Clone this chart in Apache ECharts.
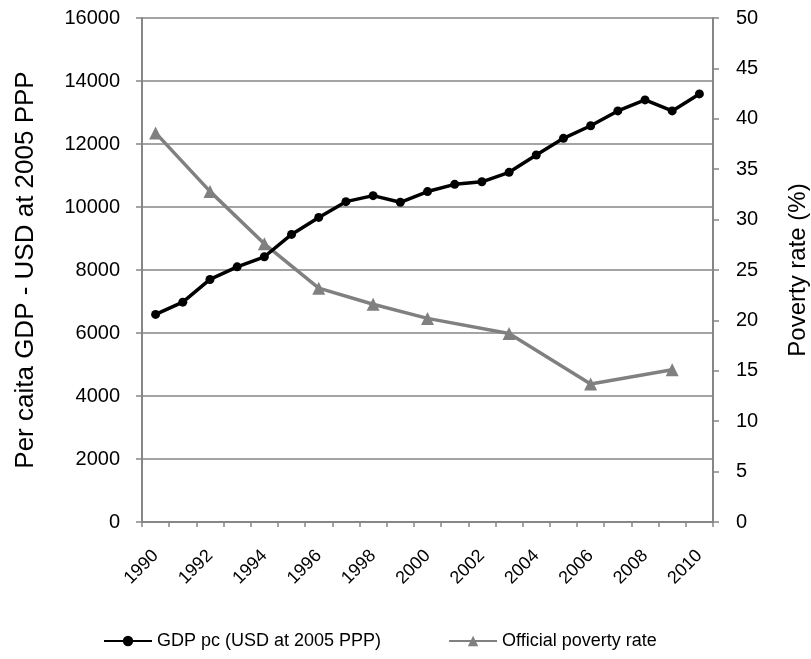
<!DOCTYPE html>
<html>
<head>
<meta charset="utf-8">
<script src="https://cdn.jsdelivr.net/npm/echarts@6/dist/echarts.min.js"></script>
<style>
  html, body { margin: 0; padding: 0; background: #fff; }
  #main { width: 811px; height: 659px; }
</style>
</head>
<body>
<div id="main"></div>
<script>
var years = ['1990', '1991', '1992', '1993', '1994', '1995', '1996', '1997', '1998', '1999', '2000',
             '2001', '2002', '2003', '2004', '2005', '2006', '2007', '2008', '2009', '2010'];
// GDP per capita, USD at 2005 PPP
var gdpValues = [6590, 6980, 7700, 8100, 8420, 9130, 9670, 10170, 10360, 10150, 10490,
                 10720, 10800, 11100, 11650, 12180, 12580, 13050, 13400, 13050, 13590];
// official poverty rate (%), only some years
var povertyValues = [38.6, null, 32.8, null, 27.6, null, 23.2, null, 21.6, null, 20.2,
                     null, null, 18.7, null, null, 13.7, null, null, 15.1, null];
var leftTicks = [0, 16000, 2000];
var rightTicks = [0, 50, 5];

var font = '"Liberation Sans", Arial, sans-serif';
var gray = '#868686';

var chart = echarts.init(document.getElementById('main'));
var option = {
  backgroundColor: '#fff',
  animation: false,
  textStyle: { fontFamily: font },
  legend: {
    left: 98,
    top: 627,
    itemWidth: 48,
    itemHeight: 13,
    itemGap: 67,
    textStyle: { fontFamily: font, fontSize: 18, color: '#000' },
    data: ['GDP pc (USD at 2005 PPP)', 'Official poverty rate']
  },
  grid: { left: 142, right: 98, top: 18, bottom: 137, containLabel: false, outerBoundsMode: 'none' },
  xAxis: {
    type: 'category',
    data: years,
    boundaryGap: true,
    axisLine: { lineStyle: { color: gray, width: 2 } },
    axisTick: { show: true, interval: 0, length: 5, lineStyle: { color: gray, width: 1.5 } },
    axisLabel: {
      interval: 1,
      rotate: 45,
      margin: 31,
      fontFamily: font,
      fontSize: 18,
      color: '#000'
    }
  },
  yAxis: [{
    type: 'value',
    min: leftTicks[0],
    max: leftTicks[1],
    interval: leftTicks[2],
    name: 'Per caita GDP - USD at 2005 PPP',
    nameLocation: 'middle',
    nameGap: 103,
    nameTextStyle: { fontFamily: font, fontSize: 26, color: '#000' },
    axisLine: { show: true, lineStyle: { color: gray, width: 2 } },
    axisTick: { show: true, length: 6, lineStyle: { color: gray, width: 1.5 } },
    axisLabel: {
      margin: 22, fontFamily: font, fontSize: 20, color: '#000',
      formatter: function (v) { return String(v); }
    },
    splitLine: { show: true, lineStyle: { color: gray, width: 1.5 } }
  }, {
    type: 'value',
    position: 'right',
    min: rightTicks[0],
    max: rightTicks[1],
    interval: rightTicks[2],
    name: 'Poverty rate (%)',
    nameLocation: 'middle',
    nameGap: 73,
    nameRotate: 90,
    nameTextStyle: { fontFamily: font, fontSize: 24, color: '#000' },
    axisLine: { show: true, lineStyle: { color: gray, width: 2 } },
    axisTick: { show: true, length: 6, lineStyle: { color: gray, width: 1.5 } },
    axisLabel: { margin: 23, fontFamily: font, fontSize: 20, color: '#000' },
    splitLine: { show: false }
  }],
  series: [{
    name: 'GDP pc (USD at 2005 PPP)',
    type: 'line',
    yAxisIndex: 0,
    data: gdpValues,
    symbol: 'circle',
    symbolSize: 9,
    itemStyle: { color: '#000' },
    lineStyle: { color: '#000', width: 3.5 },
    z: 3
  }, {
    name: 'Official poverty rate',
    type: 'line',
    yAxisIndex: 1,
    data: povertyValues,
    connectNulls: true,
    symbol: 'triangle',
    symbolSize: 13,
    itemStyle: { color: '#808080' },
    lineStyle: { color: '#808080', width: 3.5 },
    z: 2
  }]
};
chart.setOption(option);
</script>
</body>
</html>
